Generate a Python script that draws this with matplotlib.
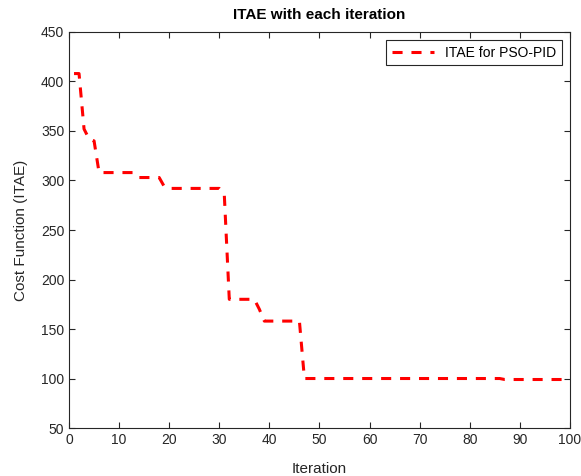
import matplotlib.pyplot as plt
import numpy as np

plt.rcParams['font.family'] = ['Liberation Sans', 'DejaVu Sans']

# ITAE value at each iteration
iteracion = np.arange(1, 101)
itae = ([408, 408, 352, 342, 340] + [308] * 8 + [303] * 5 + [294] + [292] * 11
        + [286] + [180] * 6 + [170] + [158] * 8 + [100] * 40 + [99] * 14)
itae = np.array(itae)

fig = plt.figure(figsize=(5.81, 4.76), dpi=100)
ax = fig.add_axes([0.1188, 0.1008, 0.862, 0.832])

ax.plot(iteracion, itae, color='red', linewidth=2.2, linestyle='--',
        dashes=(3.3, 2.9), label='ITAE for PSO-PID')

ax.set_xlim(0, 100)
ax.set_ylim(50, 450)
ax.set_xticks(np.arange(0, 101, 10))
ax.set_yticks(np.arange(50, 451, 50))
ax.tick_params(direction='in', top=True, right=True, labelsize=10,
               colors='#262626', length=4)
for s in ax.spines.values():
    s.set_color('#262626')
    s.set_linewidth(0.8)

ax.set_title('ITAE with each iteration', fontsize=11, fontweight='bold', pad=9)
ax.set_xlabel('Iteration', fontsize=11, color='#262626', labelpad=11)
ax.set_ylabel('Cost Function (ITAE)', fontsize=11, color='#262626', labelpad=9)

leg = ax.legend(loc='upper right', fontsize=10, fancybox=False,
                edgecolor='#262626', framealpha=1, handlelength=3.0,
                borderaxespad=0.6)
leg.get_frame().set_linewidth(0.8)

fig.savefig('out.png')
